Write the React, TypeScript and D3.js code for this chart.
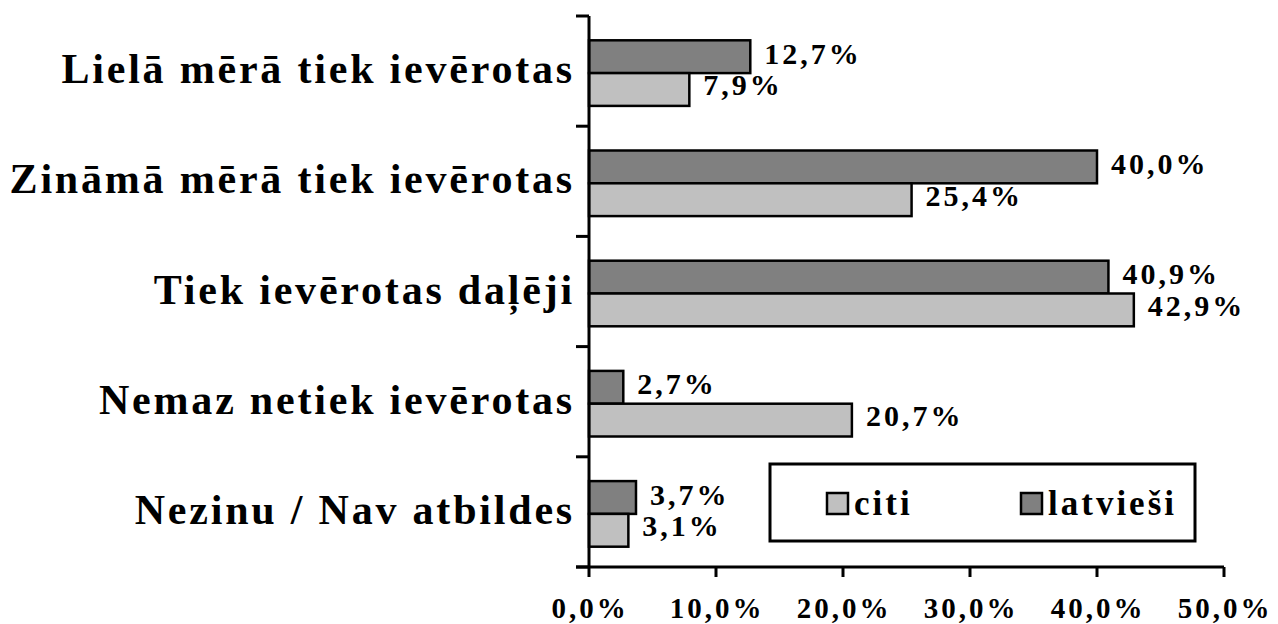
import { useEffect, useRef } from "react";
import * as d3 from "d3";

const categories = [
  "Lielā mērā tiek ievērotas",
  "Zināmā mērā tiek ievērotas",
  "Tiek ievērotas daļēji",
  "Nemaz netiek ievērotas",
  "Nezinu / Nav atbildes",
];
const latviesi = [12.7, 40.0, 40.9, 2.7, 3.7];
const citi = [7.9, 25.4, 42.9, 20.7, 3.1];
const xTicks = [0, 10, 20, 30, 40, 50];
const seriesNames = ["citi", "latvieši"];

const fmt = (v: number) => v.toFixed(1).replace(".", ",") + "%";

export default function App() {
  const svgRef = useRef<SVGSVGElement | null>(null);

  useEffect(() => {
    if (!svgRef.current) return;
    const width = 1278;
    const height = 624;
    const margin = { top: 16, right: 54, bottom: 57, left: 589 };
    const font = "'Liberation Serif', 'Times New Roman', serif";

    const svg = d3.select(svgRef.current);
    svg.selectAll("*").remove();

    const x = d3.scaleLinear().domain([0, 50]).range([margin.left, width - margin.right]);
    const y = d3.scaleBand<number>()
      .domain(d3.range(categories.length))
      .range([margin.top, height - margin.bottom]);
    const inner = d3.scaleBand<string>()
      .domain(["latvieši", "citi"])
      .range([2, y.bandwidth() + 2])
      .paddingOuter(0.68)
      .paddingInner(0);

    const rows = categories.map((c, i) => ({ c, i, lat: latviesi[i], cit: citi[i] }));

    // bars + value labels
    const g = svg.append("g");
    rows.forEach((r) => {
      [["latvieši", r.lat, "#808080", 7], ["citi", r.cit, "#c0c0c0", 6]].forEach(([name, v, col, dy]) => {
        const by = (y(r.i) as number) + (inner(name as string) as number);
        g.append("rect")
          .attr("x", x(0))
          .attr("y", by)
          .attr("width", x(v as number) - x(0))
          .attr("height", inner.bandwidth())
          .attr("fill", col as string)
          .attr("stroke", "#000")
          .attr("stroke-width", 2.5);
        g.append("text")
          .attr("x", x(v as number) + 14)
          .attr("y", by + inner.bandwidth() / 2 + (dy as number))
          .attr("font-family", font)
          .attr("font-weight", "bold")
          .attr("font-size", 30)
          .attr("letter-spacing", 3)
          .text(fmt(v as number));
      });
    });

    // y axis
    const yAxis = svg.append("g");
    yAxis.append("line")
      .attr("x1", x(0)).attr("x2", x(0))
      .attr("y1", margin.top).attr("y2", height - margin.bottom)
      .attr("stroke", "#000").attr("stroke-width", 3);
    d3.range(categories.length + 1).forEach((i) => {
      const ty = margin.top + i * y.step();
      yAxis.append("line")
        .attr("x1", x(0) - 13).attr("x2", x(0))
        .attr("y1", ty).attr("y2", ty)
        .attr("stroke", "#000").attr("stroke-width", 3);
    });
    rows.forEach((r) => {
      yAxis.append("text")
        .attr("x", 575)
        .attr("y", (y(r.i) as number) + y.bandwidth() / 2 + 12)
        .attr("text-anchor", "end")
        .attr("font-family", font)
        .attr("font-weight", "bold")
        .attr("font-size", 42)
        .attr("letter-spacing", 2.8)
        .text(r.c);
    });

    // x axis
    const xAxis = svg.append("g");
    const by0 = height - margin.bottom;
    xAxis.append("line")
      .attr("x1", x(0) - 13).attr("x2", x(50))
      .attr("y1", by0).attr("y2", by0)
      .attr("stroke", "#000").attr("stroke-width", 3);
    xTicks.forEach((t) => {
      xAxis.append("line")
        .attr("x1", x(t)).attr("x2", x(t))
        .attr("y1", by0).attr("y2", by0 + 10)
        .attr("stroke", "#000").attr("stroke-width", 3);
      xAxis.append("text")
        .attr("x", x(t) + 1)
        .attr("y", 618)
        .attr("text-anchor", "middle")
        .attr("font-family", font)
        .attr("font-weight", "bold")
        .attr("font-size", 29)
        .attr("letter-spacing", 3)
        .text(fmt(t));
    });

    // legend
    const lg = svg.append("g");
    lg.append("rect")
      .attr("x", 770).attr("y", 464).attr("width", 425).attr("height", 77)
      .attr("fill", "#fff").attr("stroke", "#000").attr("stroke-width", 3);
    const legendX = [827, 1021];
    const cols = ["#c0c0c0", "#808080"];
    seriesNames.forEach((n, i) => {
      lg.append("rect")
        .attr("x", legendX[i]).attr("y", 493).attr("width", 21).attr("height", 21)
        .attr("fill", cols[i]).attr("stroke", "#000").attr("stroke-width", 2.5);
      lg.append("text")
        .attr("x", legendX[i] + 27)
        .attr("y", 515)
        .attr("font-family", font)
        .attr("font-weight", "bold")
        .attr("font-size", 35)
        .attr("letter-spacing", 3)
        .text(n);
    });
  }, []);

  return (
    <svg
      ref={svgRef}
      width={1278}
      height={624}
      style={{ position: "absolute", left: 0, top: 0, background: "#fff" }}
    />
  );
}
